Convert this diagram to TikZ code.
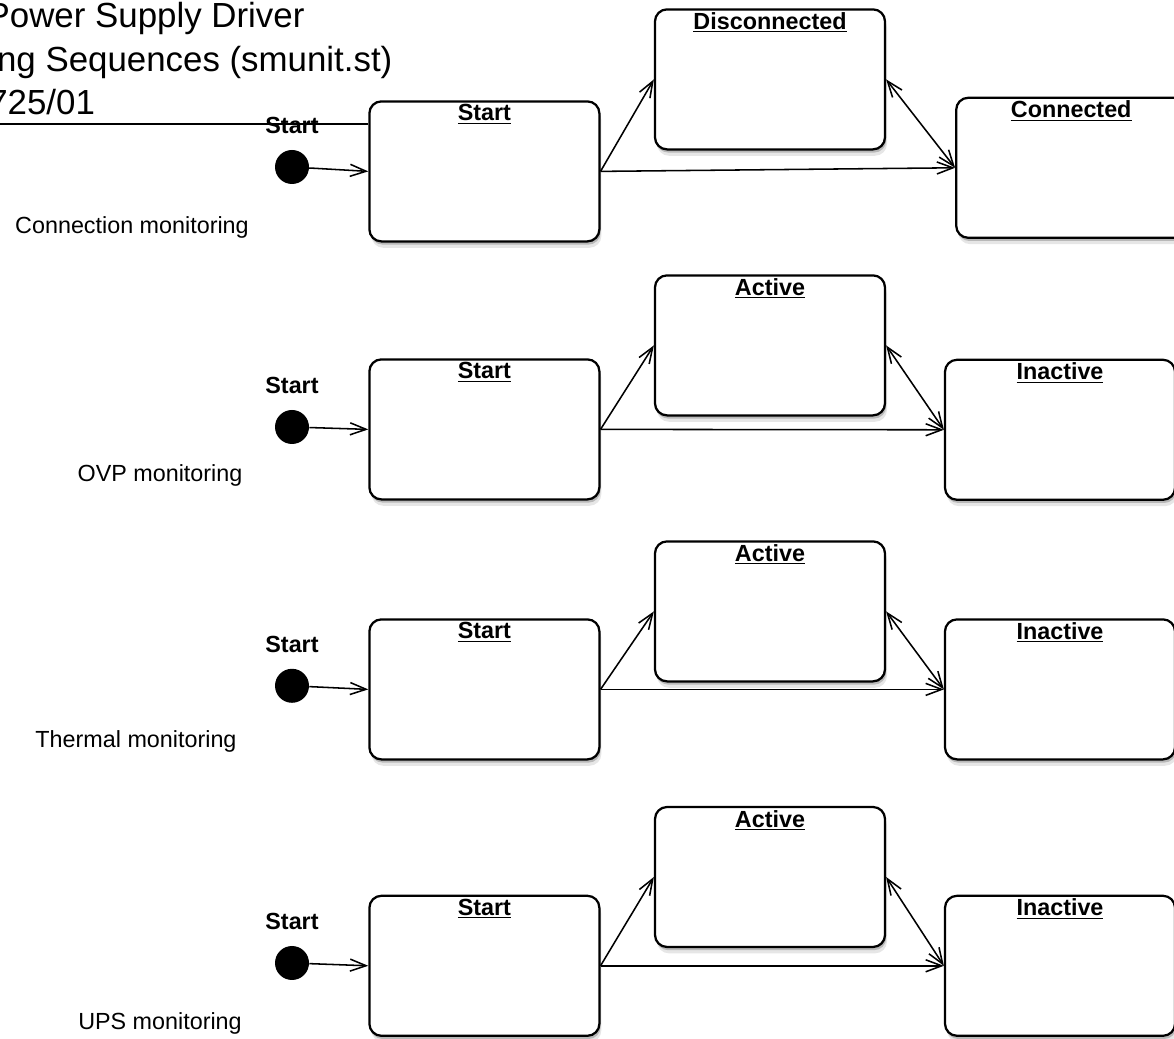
\documentclass[tikz,border=0pt]{standalone}
\usepackage{fontspec}
\setmainfont{Liberation Sans}
\usetikzlibrary{arrows.meta,shadows}

\begin{document}
\begin{tikzpicture}[
  txt/.style={font=\fontsize{16.6}{20}\selectfont},
  txtb/.style={font=\fontsize{16.6}{20}\selectfont\bfseries},
  state/.style={draw=black,line width=1.6pt,fill=white,rounded corners=0.3cm,
    minimum width=5.75cm,minimum height=3.5cm,
    drop shadow={shadow xshift=0.03cm,shadow yshift=-0.08cm,opacity=0.45},
    drop shadow={shadow xshift=0.05cm,shadow yshift=-0.16cm,opacity=0.2},
    label={[anchor=north,inner sep=0.1cm,txtb]north:\underline{#1}}},
  init/.style={circle,fill=black,minimum size=0.85cm,inner sep=0pt,
    label={[label distance=0.28cm,txtb]90:Start}},
  trans/.style={-{Straight Barb[length=0.4cm,width=0.3cm]},line width=1.1pt},
  twoway/.style={{Straight Barb[length=0.4cm,width=0.3cm]}-{Straight Barb[length=0.4cm,width=0.3cm]},line width=1.1pt},
  head/.style={anchor=base west,inner sep=0pt,font=\fontsize{24.8}{29}\selectfont}]
\useasboundingbox (0,0) rectangle (29.35,25.975);
\clip (0,0) rectangle (29.35,25.975);
% heading, cut at the left edge
\node[head] (h1) at (-0.34,25.275) {Power Supply Driver};
\node[head] (h2) at (-0.08,24.175) {ng Sequences (smunit.st)};
\node[head] (h3) at (-0.3,23.1) {725/01};
% connection monitoring
\node[state=Start] (start1) at (12.11,21.69) {};
\node[state=Disconnected] (disc) at (19.25,23.99) {};
\node[state=Connected] (conn) at (26.78,21.78) {};
\node[init] (dot1) at (7.3,21.8) {};
\node[txt] (mon1) at (3.3,20.3) {Connection monitoring};
\coordinate (rule) at (0,22.88);
\draw[line width=1.1pt] (rule) -- (rule -| start1.west);
\draw[trans] (dot1) -- (start1.west);
\draw[trans] (start1.east) -- (disc.west);
\draw[trans] (start1.east) -- (conn.west);
\draw[twoway] (disc.east) -- (conn.west);
% OVP monitoring
\node[state=Start] (start2) at (12.11,15.24) {};
\node[state=Active] (act2) at (19.25,17.34) {};
\node[state=Inactive] (inact2) at (26.5,15.23) {};
\node[init] (dot2) at (7.3,15.3) {};
\node[txt] (mon2) at (4.0,14.1) {OVP monitoring};
\draw[trans] (dot2) -- (start2.west);
\draw[trans] (start2.east) -- (act2.west);
\draw[trans] (start2.east) -- (inact2.west);
\draw[twoway] (act2.east) -- (inact2.west);
% thermal monitoring
\node[state=Start] (start3) at (12.11,8.74) {};
\node[state=Active] (act3) at (19.25,10.69) {};
\node[state=Inactive] (inact3) at (26.5,8.74) {};
\node[init] (dot3) at (7.3,8.83) {};
\node[txt] (mon3) at (3.4,7.45) {Thermal monitoring};
\draw[trans] (dot3) -- (start3.west);
\draw[trans] (start3.east) -- (act3.west);
\draw[trans] (start3.east) -- (inact3.west);
\draw[twoway] (act3.east) -- (inact3.west);
% UPS monitoring
\node[state=Start] (start4) at (12.11,1.83) {};
\node[state=Active] (act4) at (19.25,4.05) {};
\node[state=Inactive] (inact4) at (26.5,1.83) {};
\node[init] (dot4) at (7.3,1.9) {};
\node[txt] (mon4) at (4.0,0.38) {UPS monitoring};
\draw[trans] (dot4) -- (start4.west);
\draw[trans] (start4.east) -- (act4.west);
\draw[trans] (start4.east) -- (inact4.west);
\draw[twoway] (act4.east) -- (inact4.west);
\end{tikzpicture}
\end{document}
